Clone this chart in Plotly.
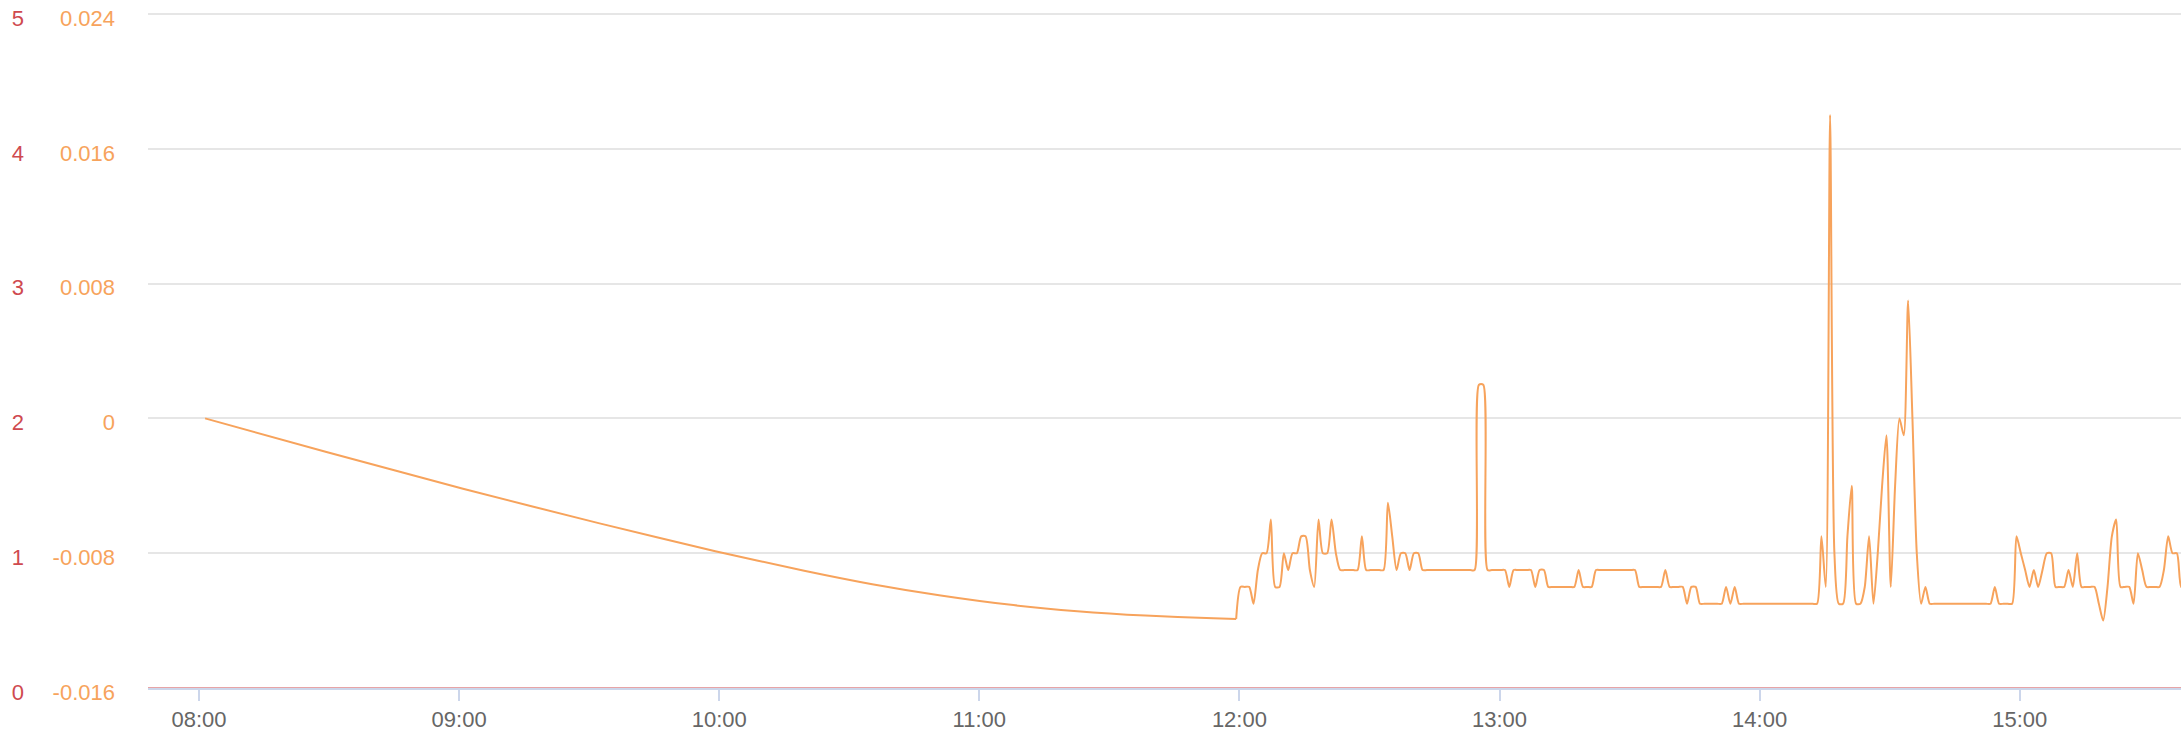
import pandas as pd
import plotly.graph_objects as go

DAY = "2024-01-01 "

# ---- orange series (inner left axis) ----
# smooth morning segment (ends where the per-minute readings begin)
morning_times = ["08:01:24", "08:29:24", "09:00:54", "09:32:24", "09:59:06", "10:19:36",
                 "10:35:18", "10:51:06", "11:06:48", "11:22:36", "11:38:18", "11:54:00",
                 "11:59:15"]
morning_vals = [0.0, -0.00199, -0.00417, -0.00623, -0.00788, -0.00904,
                -0.00984, -0.01051, -0.01105, -0.01144, -0.01170, -0.01186,
                -0.0119]

# per-minute readings (in thousandths) starting at 11:59
minute_start = "11:59:15"
vals_1159 = [-11.9]
vals_12h = [-10, -10, -10, -11, -9, -8, -8, -6, -10, -10,
            -8, -9, -8, -8, -7, -7, -9, -10, -6, -8,
            -8, -6, -8, -9, -9, -9, -9, -9, -7, -9,
            -9, -9, -9, -9, -5, -7, -9, -8, -8, -9,
            -8, -8, -9, -9, -9, -9, -9, -9, -9, -9,
            -9, -9, -9, -9, -9, 2, 2, -9, -9, -9]
vals_13h = [-9, -9, -10, -9, -9, -9, -9, -9, -10, -9,
            -9, -10, -10, -10, -10, -10, -10, -10, -9, -10,
            -10, -10, -9, -9, -9, -9, -9, -9, -9, -9,
            -9, -9, -10, -10, -10, -10, -10, -10, -9, -10,
            -10, -10, -10, -11, -10, -10, -11, -11, -11, -11,
            -11, -11, -10, -11, -10, -11, -11, -11, -11, -11]
vals_14h = [-11, -11, -11, -11, -11, -11, -11, -11, -11, -11,
            -11, -11, -11, -11, -7, -10, 18, -8, -11, -11,
            -7, -4, -11, -11, -10, -7, -11, -8, -4, -1,
            -10, -4, 0, -1, 7, 0, -8, -11, -10, -11,
            -11, -11, -11, -11, -11, -11, -11, -11, -11, -11,
            -11, -11, -11, -11, -10, -11, -11, -11, -11, -7]
vals_15h = [-8, -9, -10, -9, -10, -9, -8, -8, -10, -10,
            -10, -9, -10, -8, -10, -10, -10, -10, -11, -12,
            -10, -7, -6, -10, -10, -10, -11, -8, -9, -10,
            -10, -10, -10, -9, -7, -8, -8, -10, -10]

# ---- red series (outer axis) ----
red_times = ["07:40", "15:40"]
red_vals = [0, 0]

# ---- tick labels ----
orange_tickvals = [-0.016, -0.008, 0, 0.008, 0.016, 0.024]
orange_ticktext = ["-0.016", "-0.008", "0", "0.008", "0.016", "0.024"]
red_tickvals = [0, 1, 2, 3, 4, 5]
red_ticktext = ["0", "1", "2", "3", "4", "5"]

ORANGE = "#f7a35c"
RED = "#cf4a4f"
FONT = "Liberation Sans, Arial, Helvetica, sans-serif"

minute_thousandths = vals_1159 + vals_12h + vals_13h + vals_14h + vals_15h
minute_times = pd.date_range(DAY + minute_start, periods=len(minute_thousandths), freq="1min")

orange_line = dict(color=ORANGE, width=2, shape="spline", smoothing=0.7)

# a little headroom above the top grid line so it is drawn (2 px)
HEAD = 1.003

fig = go.Figure()
fig.add_trace(go.Scatter(
    x=[pd.Timestamp(DAY + t) for t in morning_times], y=morning_vals,
    mode="lines", yaxis="y", line=orange_line,
    showlegend=False, hoverinfo="skip",
))
fig.add_trace(go.Scatter(
    x=list(minute_times), y=[v / 1000.0 for v in minute_thousandths],
    mode="lines", yaxis="y", line=orange_line,
    showlegend=False, hoverinfo="skip",
))
fig.add_trace(go.Scatter(
    x=[pd.Timestamp(DAY + t) for t in red_times], y=red_vals, mode="lines", yaxis="y2",
    line=dict(color=RED, width=1.2),
    showlegend=False, hoverinfo="skip",
))

fig.update_layout(
    width=2181, height=735,
    margin=dict(l=148, r=0, t=12, b=47),
    paper_bgcolor="white", plot_bgcolor="white",
    font=dict(family=FONT, size=22, color="#666666"),
    xaxis=dict(
        type="date",
        range=[DAY + "07:48:14", DAY + "15:37:12"],
        dtick=3600000, tick0=DAY + "08:00", tickformat="%H:%M",
        ticks="outside", ticklen=11, tickcolor="#ccd6eb", tickwidth=1.5,
        showline=True, linecolor="#ccd6eb", linewidth=2,
        showgrid=False, zeroline=False,
        tickfont=dict(size=22, color="#666666", family=FONT),
    ),
    yaxis=dict(
        range=[-0.016, -0.016 + 0.04 * HEAD],
        tickvals=orange_tickvals, ticktext=orange_ticktext,
        tickfont=dict(size=22, color=ORANGE, family=FONT),
        gridcolor="#e6e6e6", gridwidth=1.5,
        zeroline=False, showline=False, ticks="",
        ticklabelstandoff=32, ticklabeloverflow="allow", ticklabelshift=4,
    ),
    yaxis2=dict(
        range=[0, 5 * HEAD], overlaying="y", side="left", anchor="free", position=0,
        tickvals=red_tickvals, ticktext=red_ticktext,
        tickfont=dict(size=22, color=RED, family=FONT),
        showgrid=False, zeroline=False, showline=False, ticks="",
        ticklabelstandoff=124, ticklabeloverflow="allow", ticklabelshift=4,
    ),
)

fig.write_html(
    "out.html",
    config={"displayModeBar": False},
    post_script="document.body.style.margin='0px';document.body.style.overflow='hidden';",
)
